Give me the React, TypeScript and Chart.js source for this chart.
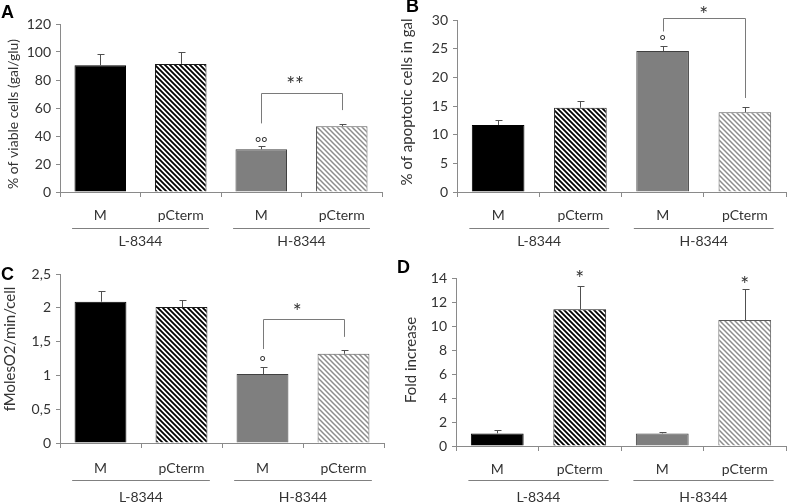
import React, { useEffect, useRef } from 'react';
import { Chart, registerables } from 'chart.js';
Chart.register(...registerables);

// ---------- data ----------
const conditions = ['M', 'pCterm', 'M', 'pCterm'];
const groups = ['L-8344', 'H-8344'];

const viableMean = [90.5, 91.5, 30.5, 47];
const viableErr = [8, 8.5, 2.5, 1.5];
const viableTicks = { min: 0, max: 120, step: 20 };

const apoptoticMean = [11.7, 14.7, 24.6, 13.9];
const apoptoticErr = [0.8, 1.1, 0.8, 0.9];
const apoptoticTicks = { min: 0, max: 30, step: 5 };

const oxygenMean = [2.09, 2.01, 1.02, 1.32];
const oxygenErr = [0.16, 0.11, 0.1, 0.05];
const oxygenTicks = { min: 0, max: 2.5, step: 0.5 };

const foldMean = [1.05, 11.4, 1.05, 10.5];
const foldErr = [0.25, 1.9, 0.12, 2.6];
const foldTicks = { min: 0, max: 14, step: 2 };

// ---------- styles ----------
const FONT = 'Lato, "Open Sans", sans-serif';
const AXIS = '#8a8a8a';
const TEXT = '#333333';
const STAR_SIZE = 21;

function hatch(line: string, bg: string, lw: number, size: number) {
  const c = document.createElement('canvas');
  c.width = size;
  c.height = size;
  const g = c.getContext('2d')!;
  g.fillStyle = bg;
  g.fillRect(0, 0, size, size);
  g.strokeStyle = line;
  g.lineWidth = lw;
  g.beginPath();
  for (const o of [-size, 0, size]) {
    g.moveTo(o - 1, -1);
    g.lineTo(o + size + 1, size + 1);
  }
  g.stroke();
  return g.createPattern(c, 'repeat')!;
}

type Bracket = { i: number; j: number; left: number; top: number; right: number; text: string; textV: number; textF: number };
type Panel = {
  letter: string;
  letterX: number;
  letterY: number;
  title: string;
  titleX: number;
  titleY: number;
  titleSize: number;
  mean: number[];
  err: number[];
  ticks: { min: number; max: number; step: number };
  comma?: boolean;
  area: { left: number; right: number; top: number; bottom: number };
  w: number;
  h: number;
  lineY: number;
  labelY: number;
  tickPad: number;
  bracket?: Bracket;
  degree?: { i: number; v: number; text: string };
  stars?: { i: number; v: number }[];
};

function drawStar(ctx: any, text: string, x: number, yCenter: number) {
  ctx.fillStyle = TEXT;
  ctx.font = `${STAR_SIZE}px ${FONT}`;
  ctx.textAlign = 'center';
  ctx.textBaseline = 'alphabetic';
  ctx.fillText(text, x, yCenter + STAR_SIZE * 0.57);
}

function decorPlugin(p: Panel) {
  return {
    id: 'decor' + p.letter,
    afterDraw(chart: any) {
      const { ctx } = chart;
      const x = chart.scales.x;
      const y = chart.scales.y;
      const meta = chart.getDatasetMeta(0);
      const cx = (i: number) => meta.data[i].x;
      ctx.save();
      // error bars
      ctx.strokeStyle = '#505050';
      ctx.lineWidth = 1;
      meta.data.forEach((bar: any, i: number) => {
        const xx = Math.round(bar.x) + 0.5;
        const top = Math.round(y.getPixelForValue(p.mean[i] + p.err[i])) + 0.5;
        ctx.beginPath();
        ctx.moveTo(xx, bar.y);
        ctx.lineTo(xx, top);
        ctx.moveTo(xx - 3, top);
        ctx.lineTo(xx + 4, top);
        ctx.stroke();
      });
      // bracket
      if (p.bracket) {
        const b = p.bracket;
        const x1 = Math.round(cx(b.i)) + 0.5;
        const x2 = Math.round(cx(b.j)) + 0.5;
        const yt = Math.round(y.getPixelForValue(b.top)) + 0.5;
        ctx.strokeStyle = '#7a7a7a';
        ctx.beginPath();
        ctx.moveTo(x1, y.getPixelForValue(b.left));
        ctx.lineTo(x1, yt);
        ctx.lineTo(x2, yt);
        ctx.lineTo(x2, y.getPixelForValue(b.right));
        ctx.stroke();
        drawStar(ctx, b.text, cx(b.i) + (cx(b.j) - cx(b.i)) * b.textF, y.getPixelForValue(b.textV));
      }
      if (p.degree) {
        ctx.fillStyle = TEXT;
        ctx.font = `15px ${FONT}`;
        ctx.textAlign = 'center';
        ctx.textBaseline = 'middle';
        ctx.fillText(p.degree.text, cx(p.degree.i), y.getPixelForValue(p.degree.v) + 4);
      }
      if (p.stars) {
        for (const s of p.stars) drawStar(ctx, '*', cx(s.i), y.getPixelForValue(s.v));
      }
      // group lines and labels
      const catW = (x.right - x.left) / conditions.length;
      groups.forEach((g, k) => {
        const mid = x.left + catW * (2 * k + 1);
        ctx.strokeStyle = '#808080';
        ctx.lineWidth = 1.2;
        ctx.beginPath();
        ctx.moveTo(mid - catW * 0.85, p.lineY + 0.5);
        ctx.lineTo(mid + catW * 0.85, p.lineY + 0.5);
        ctx.stroke();
        ctx.fillStyle = TEXT;
        ctx.font = `14px ${FONT}`;
        ctx.textAlign = 'center';
        ctx.textBaseline = 'middle';
        ctx.fillText(g, mid, p.labelY);
      });
      // y title
      ctx.save();
      ctx.translate(p.titleX, p.titleY);
      ctx.rotate(-Math.PI / 2);
      ctx.fillStyle = TEXT;
      ctx.font = `${p.titleSize}px ${FONT}`;
      ctx.textAlign = 'center';
      ctx.textBaseline = 'middle';
      ctx.fillText(p.title, 0, 0);
      ctx.restore();
      // panel letter
      ctx.fillStyle = '#000';
      ctx.font = `bold 18px "Liberation Sans", Arial, sans-serif`;
      ctx.textAlign = 'left';
      ctx.textBaseline = 'alphabetic';
      ctx.fillText(p.letter, p.letterX, p.letterY);
      ctx.restore();
    },
  };
}

function PanelChart({ p, left, top }: { p: Panel; left: number; top: number }) {
  const ref = useRef<HTMLCanvasElement>(null);
  useEffect(() => {
    const fills = [
      '#000000',
      hatch('#000000', '#ffffff', 1.8, 5),
      '#7f7f7f',
      hatch('#8c8c8c', '#ffffff', 1.5, 5),
    ];
    const borders = ['#000000', '#1a1a1a', '#404040', '#5a5a5a'];
    const chart = new Chart(ref.current!, {
      type: 'bar',
      data: {
        labels: conditions,
        datasets: [
          {
            data: p.mean,
            backgroundColor: fills,
            borderColor: borders,
            borderWidth: 1,
            categoryPercentage: 1,
            barPercentage: 0.64,
          },
        ],
      },
      options: {
        animation: false,
        responsive: false,
        maintainAspectRatio: false,
        devicePixelRatio: 1,
        layout: { padding: { left: 0, top: p.area.top, right: p.w - p.area.right, bottom: 0 } },
        plugins: { legend: { display: false }, tooltip: { enabled: false } },
        scales: {
          x: {
            afterFit: (s: any) => {
              s.height = p.h - p.area.bottom;
            },
            grid: { drawOnChartArea: false, drawTicks: true, tickLength: 5, color: AXIS, offset: true },
            border: { color: AXIS, width: 1 },
            ticks: { color: TEXT, font: { family: FONT, size: 14 }, padding: p.tickPad, maxRotation: 0, autoSkip: false },
          },
          y: {
            min: p.ticks.min,
            max: p.ticks.max,
            afterFit: (s: any) => {
              s.width = p.area.left;
            },
            grid: { drawOnChartArea: false, drawTicks: true, tickLength: 4, color: AXIS },
            border: { color: AXIS, width: 1 },
            ticks: {
              stepSize: p.ticks.step,
              color: TEXT,
              font: { family: FONT, size: 14 },
              padding: 5,
              callback: (v: any) => (p.comma ? String(v).replace('.', ',') : String(v)),
            },
          },
        },
      },
      plugins: [decorPlugin(p)],
    });
    return () => chart.destroy();
  }, [p]);
  return (
    <canvas
      ref={ref}
      width={p.w}
      height={p.h}
      style={{ position: 'absolute', left, top, width: p.w, height: p.h }}
    />
  );
}

const panelA: Panel = {
  letter: 'A', letterX: 1, letterY: 18,
  title: '% of viable cells (gal/glu)', titleX: 13, titleY: 114, titleSize: 14,
  mean: viableMean, err: viableErr, ticks: viableTicks,
  area: { left: 60, right: 382, top: 24, bottom: 192 }, w: 394, h: 250,
  lineY: 228, labelY: 241, tickPad: 10,
  bracket: { i: 2, j: 3, left: 49, top: 71, right: 58.5, text: '**', textV: 80, textF: 0.42 },
  degree: { i: 2, v: 38, text: '°°' },
};
const panelB: Panel = {
  letter: 'B', letterX: 12, letterY: 12,
  title: '% of apoptotic cells in gal', titleX: 13, titleY: 102, titleSize: 15,
  mean: apoptoticMean, err: apoptoticErr, ticks: apoptoticTicks,
  area: { left: 63, right: 392, top: 20, bottom: 192 }, w: 394, h: 250,
  lineY: 228, labelY: 241, tickPad: 10,
  bracket: { i: 2, j: 3, left: 28, top: 30.3, right: 16.4, text: '*', textV: 31.7, textF: 0.5 },
  degree: { i: 2, v: 27, text: '°' },
};
const panelC: Panel = {
  letter: 'C', letterX: 1, letterY: 30,
  title: 'fMolesO2/min/cell', titleX: 10, titleY: 99, titleSize: 15,
  mean: oxygenMean, err: oxygenErr, ticks: oxygenTicks, comma: true,
  area: { left: 60, right: 384, top: 24, bottom: 193 }, w: 394, h: 252,
  lineY: 230, labelY: 247, tickPad: 12,
  bracket: { i: 2, j: 3, left: 1.39, top: 1.83, right: 1.57, text: '*', textV: 2.01, textF: 0.43 },
  degree: { i: 2, v: 1.26, text: '°' },
};
const panelD: Panel = {
  letter: 'D', letterX: 3, letterY: 23,
  title: 'Fold increase', titleX: 17, titleY: 110, titleSize: 15,
  mean: foldMean, err: foldErr, ticks: foldTicks,
  area: { left: 62, right: 392, top: 28, bottom: 196 }, w: 394, h: 252,
  lineY: 230, labelY: 247, tickPad: 10,
  stars: [{ i: 1, v: 14.3 }, { i: 3, v: 13.85 }],
};

export default function App() {
  return (
    <div style={{ position: 'fixed', left: 0, top: 0, width: 788, height: 502, background: '#fff' }}>
      <PanelChart p={panelA} left={0} top={0} />
      <PanelChart p={panelB} left={394} top={0} />
      <PanelChart p={panelC} left={0} top={250} />
      <PanelChart p={panelD} left={394} top={250} />
    </div>
  );
}
